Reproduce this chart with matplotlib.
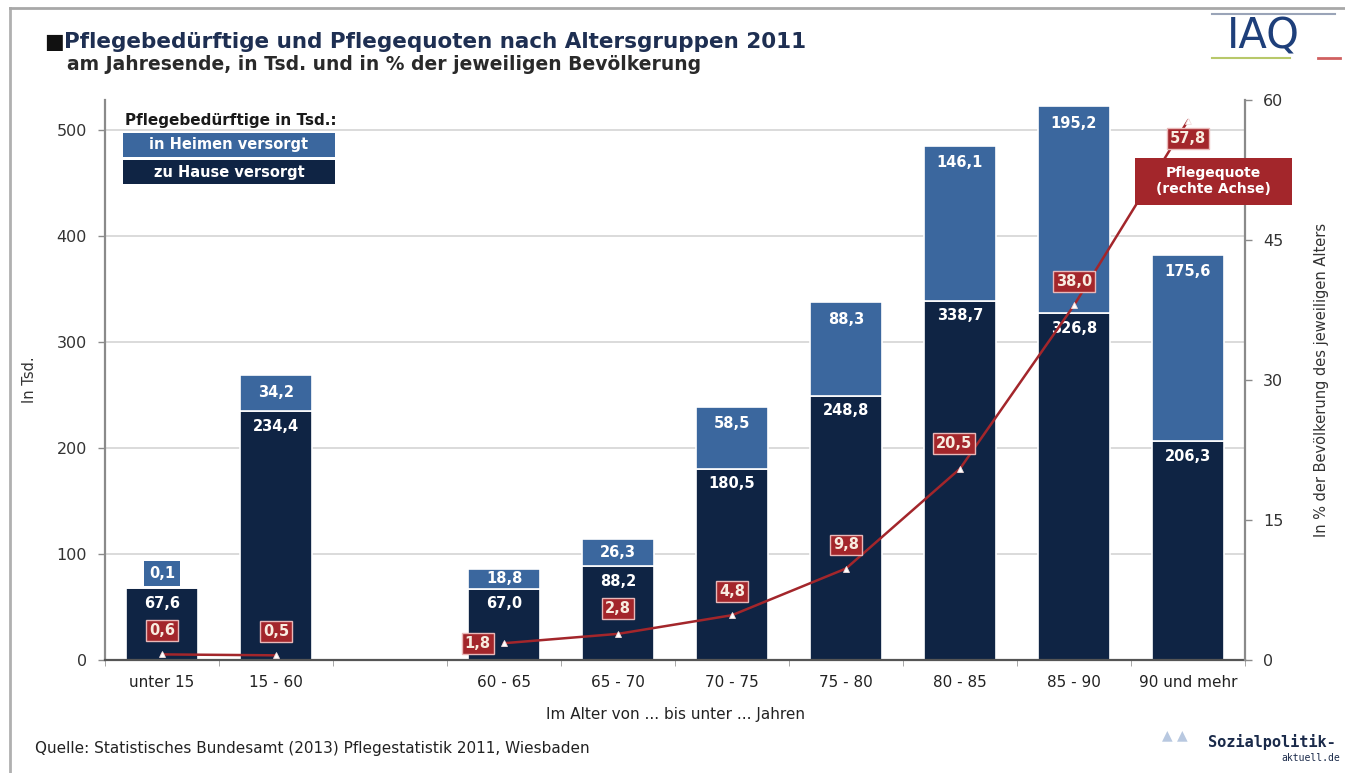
import numpy as np
import matplotlib
matplotlib.use("Agg")
import matplotlib.pyplot as plt
from matplotlib.patches import Rectangle

plt.rcParams['font.family'] = ['DejaVu Sans']

# ---- data ----
categories = ["unter 15", "15 - 60", "60 - 65", "65 - 70", "70 - 75",
              "75 - 80", "80 - 85", "85 - 90", "90 und mehr"]
zu_hause = [67.6, 234.4, 67.0, 88.2, 180.5, 248.8, 338.7, 326.8, 206.3]
in_heimen = [0.1, 34.2, 18.8, 26.3, 58.5, 88.3, 146.1, 195.2, 175.6]
pflegequote = [0.6, 0.5, 1.8, 2.8, 4.8, 9.8, 20.5, 38.0, 57.8]

DARK = '#0f2444'
LIGHT = '#3b679e'
RED = '#a3262b'

def fmt(v):
    return f"{v:.1f}".replace('.', ',')

W, H = 1345, 773
fig = plt.figure(figsize=(W / 100, H / 100), dpi=100)
fig.patch.set_facecolor('white')

L, R, B, T = 105, 1245, 660, 100
ax = fig.add_axes([L / W, 1 - B / H, (R - L) / W, (B - T) / H])
ax2 = ax.twinx()

# positions: gap of one slot after the second group
x = np.array([i if i < 2 else i + 1 for i in range(len(categories))], dtype=float)
bw = 0.64

ax.set_xlim(-0.5, 9.5)
ax.set_ylim(0, 528)
ax2.set_ylim(0, 60)

ax.set_axisbelow(True)
for yv in [100, 200, 300, 400, 500]:
    ax.axhline(yv, color='#d4d4d4', lw=1.2, zorder=0)

ax.bar(x, zu_hause, bw, color=DARK, edgecolor='white', linewidth=1.2, zorder=2)
ax.bar(x, in_heimen, bw, bottom=zu_hause, color=LIGHT, edgecolor='white',
       linewidth=1.2, zorder=2)

VFS = 10.5
# value labels
for xi, h, k in zip(x, zu_hause, in_heimen):
    ax.text(xi, h - 14, fmt(h), ha='center', va='center', color='white',
            fontsize=VFS, fontweight='bold', zorder=3)
    if k < 5:
        ax.text(xi, h + 14, fmt(k), ha='center', va='center', color='white',
                fontsize=VFS, fontweight='bold', zorder=3,
                bbox=dict(boxstyle='square,pad=0.35', fc=LIGHT, ec='none'))
    else:
        off = min(16, k / 2)
        ax.text(xi, h + k - off, fmt(k), ha='center', va='center',
                color='white', fontsize=VFS, fontweight='bold', zorder=3)

# spines / ticks
for s in ['top']:
    ax.spines[s].set_visible(False)
    ax2.spines[s].set_visible(False)
ax.spines['left'].set_color('#8a8a8a')
ax.spines['left'].set_linewidth(1.6)
ax2.spines['right'].set_color('#8a8a8a')
ax2.spines['right'].set_linewidth(1.6)
ax2.spines['left'].set_visible(False)
ax.spines['right'].set_visible(False)
ax.spines['bottom'].set_color('#555555')
ax.spines['bottom'].set_linewidth(1.6)
ax2.spines['bottom'].set_visible(False)

ax.set_yticks([0, 100, 200, 300, 400, 500])
ax.tick_params(axis='y', colors='#333333', labelsize=11.5, length=5,
               width=1, pad=8)
ax.tick_params(axis='y', color='#8a8a8a')
ax2.set_yticks([0, 15, 30, 45, 60])
ax2.tick_params(axis='y', colors='#333333', labelsize=11.5, length=5,
                width=1, pad=8)
ax2.tick_params(axis='y', color='#8a8a8a')

ax.set_xticks(x)
ax.set_xticklabels(categories)
ax.tick_params(axis='x', length=0, labelsize=11, colors='#222222', pad=11)
ax.set_xticks(np.arange(-0.5, 10, 1.0), minor=True)
ax.tick_params(axis='x', which='minor', length=4, color='#999999')

ax.set_xlabel("Im Alter von ... bis unter ... Jahren", fontsize=11,
              color='#222222', labelpad=12)
ax.set_ylabel("In Tsd.", fontsize=10.5, color='#333333', labelpad=14)
ax2.set_ylabel("In % der Bevölkerung des jeweiligen Alters", fontsize=10.5,
               color='#333333', labelpad=22)

# Pflegequote line (broken at the empty slot)
ax2.plot(x[:2], pflegequote[:2], color=RED, lw=1.8, zorder=4)
ax2.plot(x[2:], pflegequote[2:], color=RED, lw=1.8, zorder=4)
ax2.plot(x, pflegequote, ls='none', marker='^', ms=4.5, mfc='white',
         mec='#f3dede', mew=0.6, zorder=5)

label_offsets = [(0, 17), (0, 17), (-19, 0), (0, 18), (0, 17),
                 (0, 17), (-4, 18), (0, 17), (0, -13)]
for xi, q, (dx, dy) in zip(x, pflegequote, label_offsets):
    ax2.annotate(fmt(q), (xi, q), xytext=(dx, dy), textcoords='offset points',
                 ha='center', va='center', color='#f8ece0', fontsize=10.5,
                 fontweight='bold', zorder=7,
                 bbox=dict(boxstyle='square,pad=0.2', fc=RED, ec='#eab8b8',
                           lw=1))

# callout box
cb = Rectangle((1135 / W, 1 - 205 / H), 157 / W, 47 / H,
               transform=fig.transFigure, fc=RED, ec='none', zorder=8,
               clip_on=False)
ax2.add_patch(cb)
ax2.text((1135 + 157 / 2) / W, 1 - 181 / H, "Pflegequote\n(rechte Achse)",
         transform=fig.transFigure, ha='center', va='center', color='white',
         fontsize=10, fontweight='bold', zorder=9, linespacing=1.15)

# legend
fig.text(125 / W, 1 - 121 / H, "Pflegebedürftige in Tsd.:", fontsize=11,
         fontweight='bold', color='#1a1a1a', va='center', ha='left')
for (y0, y1, col, lab) in [(133, 157, LIGHT, "in Heimen versorgt"),
                           (160, 184, DARK, "zu Hause versorgt")]:
    fig.patches.append(Rectangle((123 / W, 1 - y1 / H), (335 - 123) / W,
                                 (y1 - y0) / H, transform=fig.transFigure,
                                 fc=col, ec='none', zorder=5))
    fig.text(229 / W, 1 - (y0 + y1) / 2 / H, lab, fontsize=10.5,
             fontweight='bold', color='white', ha='center', va='center',
             zorder=6)

# titles
fig.text(44 / W, 1 - 42 / H, "■", fontsize=15, color='#111111',
         ha='left', va='center')
fig.text(64 / W, 1 - 42 / H,
         "Pflegebedürftige und Pflegequoten nach Altersgruppen 2011",
         fontsize=15.5, fontweight='bold', color='#1e2f52', ha='left',
         va='center')
fig.text(67 / W, 1 - 64 / H,
         "am Jahresende, in Tsd. und in % der jeweiligen Bevölkerung",
         fontsize=13.5, fontweight='bold', color='#2a2a2a', ha='left',
         va='center')

# source
fig.text(35 / W, 1 - 748 / H,
         "Quelle: Statistisches Bundesamt (2013) Pflegestatistik 2011, Wiesbaden",
         fontsize=11, color='#222222', ha='left', va='center')

# IAQ logo
fig.text(1263 / W, 1 - 37 / H, "IAQ", fontsize=30, color='#1e3f7a',
         ha='center', va='center')
fig.lines.append(plt.Line2D([1212 / W, 1335 / W], [1 - 14 / H, 1 - 14 / H],
                            transform=fig.transFigure, color='#9aa4b8', lw=1.5))
fig.lines.append(plt.Line2D([1212 / W, 1290 / W], [1 - 58 / H, 1 - 58 / H],
                            transform=fig.transFigure, color='#b8c86a', lw=1.5))
fig.lines.append(plt.Line2D([1318 / W, 1340 / W], [1 - 58 / H, 1 - 58 / H],
                            transform=fig.transFigure, color='#d06060', lw=2))

# sozialpolitik logo
fig.text(1208 / W, 1 - 742 / H, "Sozialpolitik-", fontsize=11,
         family='DejaVu Sans Mono', fontweight='bold', color='#1a2a4a',
         ha='left', va='center')
fig.text(1340 / W, 1 - 758 / H, "aktuell.de", fontsize=7,
         family='DejaVu Sans Mono', color='#1a2a4a', ha='right', va='center')
fig.text(1175 / W, 1 - 735 / H, "▲ ▲", fontsize=10, color='#b8c8e0',
         ha='center', va='center')

# frame
fig.lines.append(plt.Line2D([10 / W, 10 / W], [0, 1 - 8 / H],
                            transform=fig.transFigure, color='#b0b0b0', lw=2))
fig.lines.append(plt.Line2D([10 / W, 1], [1 - 8 / H, 1 - 8 / H],
                            transform=fig.transFigure, color='#a8a8a8', lw=2))

fig.savefig("out.png", dpi=100)
